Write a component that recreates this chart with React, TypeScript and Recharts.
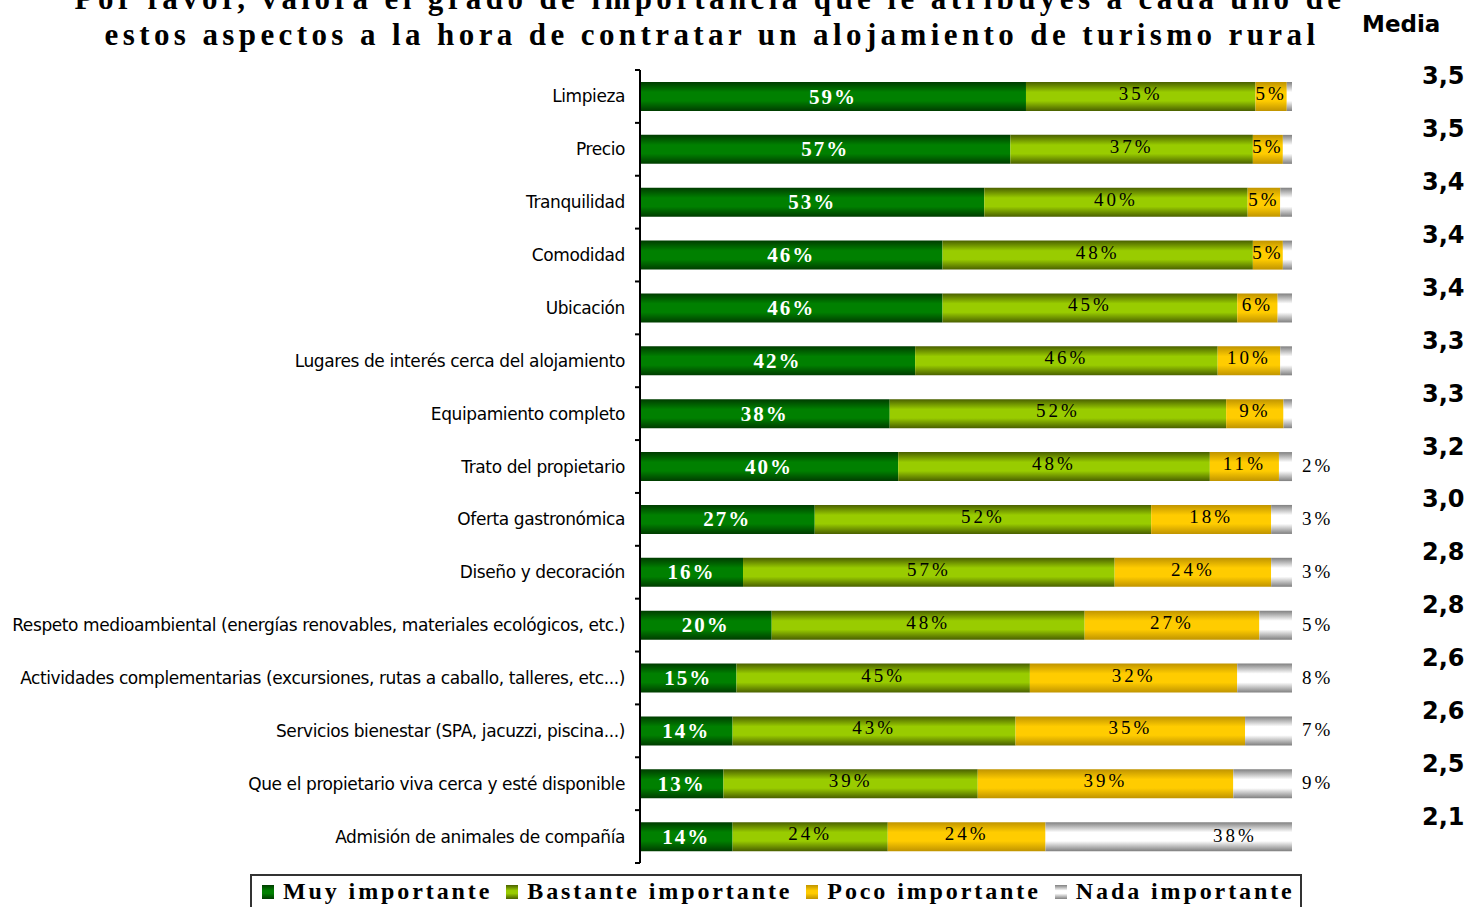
import React from "react";
import { Bar, BarChart, LabelList, XAxis, YAxis } from "recharts";

const categories = [
  "Limpieza",
  "Precio",
  "Tranquilidad",
  "Comodidad",
  "Ubicación",
  "Lugares de interés cerca del alojamiento",
  "Equipamiento completo",
  "Trato del propietario",
  "Oferta gastronómica",
  "Diseño y decoración",
  "Respeto medioambiental (energías renovables, materiales ecológicos, etc.)",
  "Actividades complementarias (excursiones, rutas a caballo, talleres, etc...)",
  "Servicios bienestar (SPA, jacuzzi, piscina...)",
  "Que el propietario viva cerca y esté disponible",
  "Admisión de animales de compañía",
];

const muyImportante = [59.2, 56.8, 52.8, 46.4, 46.4, 42.2, 38.3, 39.6, 26.8, 15.8, 20.2, 14.8, 14.2, 12.8, 14.2];
const bastanteImportante = [35.2, 37.2, 40.4, 47.6, 45.2, 46.4, 51.6, 47.8, 51.6, 57.0, 48.0, 45.0, 43.4, 39.0, 23.8];
const pocoImportante = [4.8, 4.6, 5.0, 4.6, 6.2, 9.6, 8.8, 10.6, 18.4, 24.0, 26.8, 31.8, 35.2, 39.2, 24.2];
const nadaImportante = [0.8, 1.4, 1.8, 1.4, 2.2, 1.8, 1.3, 2.0, 3.2, 3.2, 5.0, 8.4, 7.2, 9.0, 37.8];
const nadaLabels = ["", "", "", "", "", "", "", "2%", "3%", "3%", "5%", "8%", "7%", "9%", "38%"];
const media = ["3,5", "3,5", "3,4", "3,4", "3,4", "3,3", "3,3", "3,2", "3,0", "2,8", "2,8", "2,6", "2,6", "2,5", "2,1"];

const series = [
  { key: "muy", name: "Muy importante", dark: "#003c00", light: "#008000" },
  { key: "bastante", name: "Bastante importante", dark: "#4a6000", light: "#99cc00" },
  { key: "poco", name: "Poco importante", dark: "#c09400", light: "#ffcc00" },
  { key: "nada", name: "Nada importante", dark: "#808080", light: "#ffffff" },
];

const data = categories.map((categoria, i) => ({
  categoria,
  muy: muyImportante[i],
  bastante: bastanteImportante[i],
  poco: pocoImportante[i],
  nada: nadaImportante[i],
}));

const PLOT_TOP = 70;
const PLOT_HEIGHT = 793;
const BAND = PLOT_HEIGHT / categories.length;
const serif = "'Liberation Serif', 'Times New Roman', serif";
const sans = "'DejaVu Sans', Verdana, sans-serif";

function CategoryTick(props: any) {
  const { x, y, payload, index } = props;
  return (
    <g>
      <line x1={x - 5} x2={x} y1={y - BAND / 2} y2={y - BAND / 2} stroke="#000" strokeWidth={2} />
      {index === categories.length - 1 && (
        <line x1={x - 5} x2={x} y1={y + BAND / 2} y2={y + BAND / 2} stroke="#000" strokeWidth={2} />
      )}
      <text
        x={x - 15}
        y={y}
        textAnchor="end"
        dominantBaseline="central"
        fontFamily={sans}
        fontSize={17}
        letterSpacing={-0.4}
        fill="#000"
      >
        {payload.value}
      </text>
    </g>
  );
}

function MediaTick(props: any) {
  const { x, y, index } = props;
  return (
    <text
      x={x + 130}
      y={y - 20}
      textAnchor="start"
      dominantBaseline="central"
      fontFamily={sans}
      fontWeight="bold"
      fontSize={24}
      fill="#000"
    >
      {media[index]}
    </text>
  );
}

function muyLabel(props: any) {
  const { x, y, width, height, value } = props;
  return (
    <text
      x={x + width / 2}
      y={y + height / 2}
      textAnchor="middle"
      dominantBaseline="central"
      fontFamily={serif}
      fontWeight="bold"
      fontSize={21}
      letterSpacing={2}
      fill="#fff"
    >
      {Math.round(value)}%
    </text>
  );
}

function midLabel(props: any) {
  const { x, y, width, height, value } = props;
  return (
    <text
      x={x + width / 2}
      y={y + height / 2 - 3}
      textAnchor="middle"
      dominantBaseline="central"
      fontFamily={serif}
      fontSize={19}
      letterSpacing={3}
      fill="#000"
    >
      {Math.round(value)}%
    </text>
  );
}

function nadaLabel(props: any) {
  const { x, y, width, height, value, index } = props;
  const text = nadaLabels[index];
  if (!text) return null;
  const inside = value >= 15;
  return (
    <text
      x={inside ? x + width - 57 : x + width + 10}
      y={y + height / 2 - 1}
      textAnchor={inside ? "middle" : "start"}
      dominantBaseline="central"
      fontFamily={serif}
      fontSize={19}
      letterSpacing={3}
      fill="#000"
    >
      {text}
    </text>
  );
}

const labelRenderers: Record<string, any> = { muy: muyLabel, bastante: midLabel, poco: midLabel, nada: nadaLabel };

export default function App() {
  return (
    <div style={{ position: "fixed", left: 0, top: 0, width: 1470, height: 907, background: "#fff", overflow: "hidden" }}>
      <BarChart
        width={1470}
        height={907}
        data={data}
        layout="vertical"
        margin={{ top: PLOT_TOP, right: 0, bottom: 907 - PLOT_TOP - PLOT_HEIGHT, left: 0 }}
        barSize={29}
      >
        <defs>
          {series.map((s) => (
            <linearGradient key={s.key} id={`g-${s.key}`} x1="0" y1="0" x2="0" y2="1">
              <stop offset="0%" stopColor={s.dark} />
              <stop offset="35%" stopColor={s.light} />
              <stop offset="65%" stopColor={s.light} />
              <stop offset="100%" stopColor={s.dark} />
            </linearGradient>
          ))}
        </defs>
        <XAxis type="number" domain={[0, 100]} hide />
        <YAxis
          yAxisId="cat"
          type="category"
          dataKey="categoria"
          width={640}
          axisLine={{ stroke: "#000", strokeWidth: 2 }}
          tickLine={false}
          tickSize={0}
          tickMargin={0}
          tick={CategoryTick}
          interval={0}
        />
        <YAxis
          yAxisId="media"
          orientation="right"
          type="category"
          dataKey="categoria"
          width={178}
          axisLine={false}
          tickLine={false}
          tickSize={0}
          tickMargin={0}
          tick={MediaTick}
          interval={0}
        />
        {series.map((s) => (
          <Bar
            key={s.key}
            yAxisId="cat"
            dataKey={s.key}
            name={s.name}
            stackId="a"
            fill={`url(#g-${s.key})`}
            isAnimationActive={false}
          >
            <LabelList dataKey={s.key} content={labelRenderers[s.key]} />
          </Bar>
        ))}
      </BarChart>

      <svg width={1470} height={907} style={{ position: "absolute", left: 0, top: 0, pointerEvents: "none" }}>
        <text x={710} y={9} textAnchor="middle" fontFamily={serif} fontWeight="bold" fontSize={31} letterSpacing={4.4} fill="#000">
          Por favor, valora el grado de importancia que le atribuyes a cada uno de
        </text>
        <text x={712} y={45} textAnchor="middle" fontFamily={serif} fontWeight="bold" fontSize={31} letterSpacing={4.4} fill="#000">
          estos aspectos a la hora de contratar un alojamiento de turismo rural
        </text>
        <text x={1362} y={32} fontFamily={sans} fontWeight="bold" fontSize={23} fill="#000">
          Media
        </text>
      </svg>

      <div
        style={{
          position: "absolute",
          left: 250,
          top: 874,
          width: 1052,
          height: 40,
          border: "2px solid #333",
          boxSizing: "border-box",
          display: "flex",
          alignItems: "flex-start",
          paddingLeft: 10,
          paddingTop: 2,
          gap: 14,
          fontFamily: serif,
          fontWeight: "bold",
          fontSize: 24,
          letterSpacing: 2.9,
          whiteSpace: "nowrap",
        }}
      >
        {series.map((s) => (
          <div key={s.key} style={{ display: "flex", alignItems: "center" }}>
            <span
              style={{
                display: "inline-block",
                width: 12,
                height: 14,
                marginRight: 9,
                background: `linear-gradient(to bottom, ${s.dark}, ${s.light} 40%, ${s.light} 60%, ${s.dark})`,
              }}
            />
            <span>{s.name}</span>
          </div>
        ))}
      </div>
    </div>
  );
}
